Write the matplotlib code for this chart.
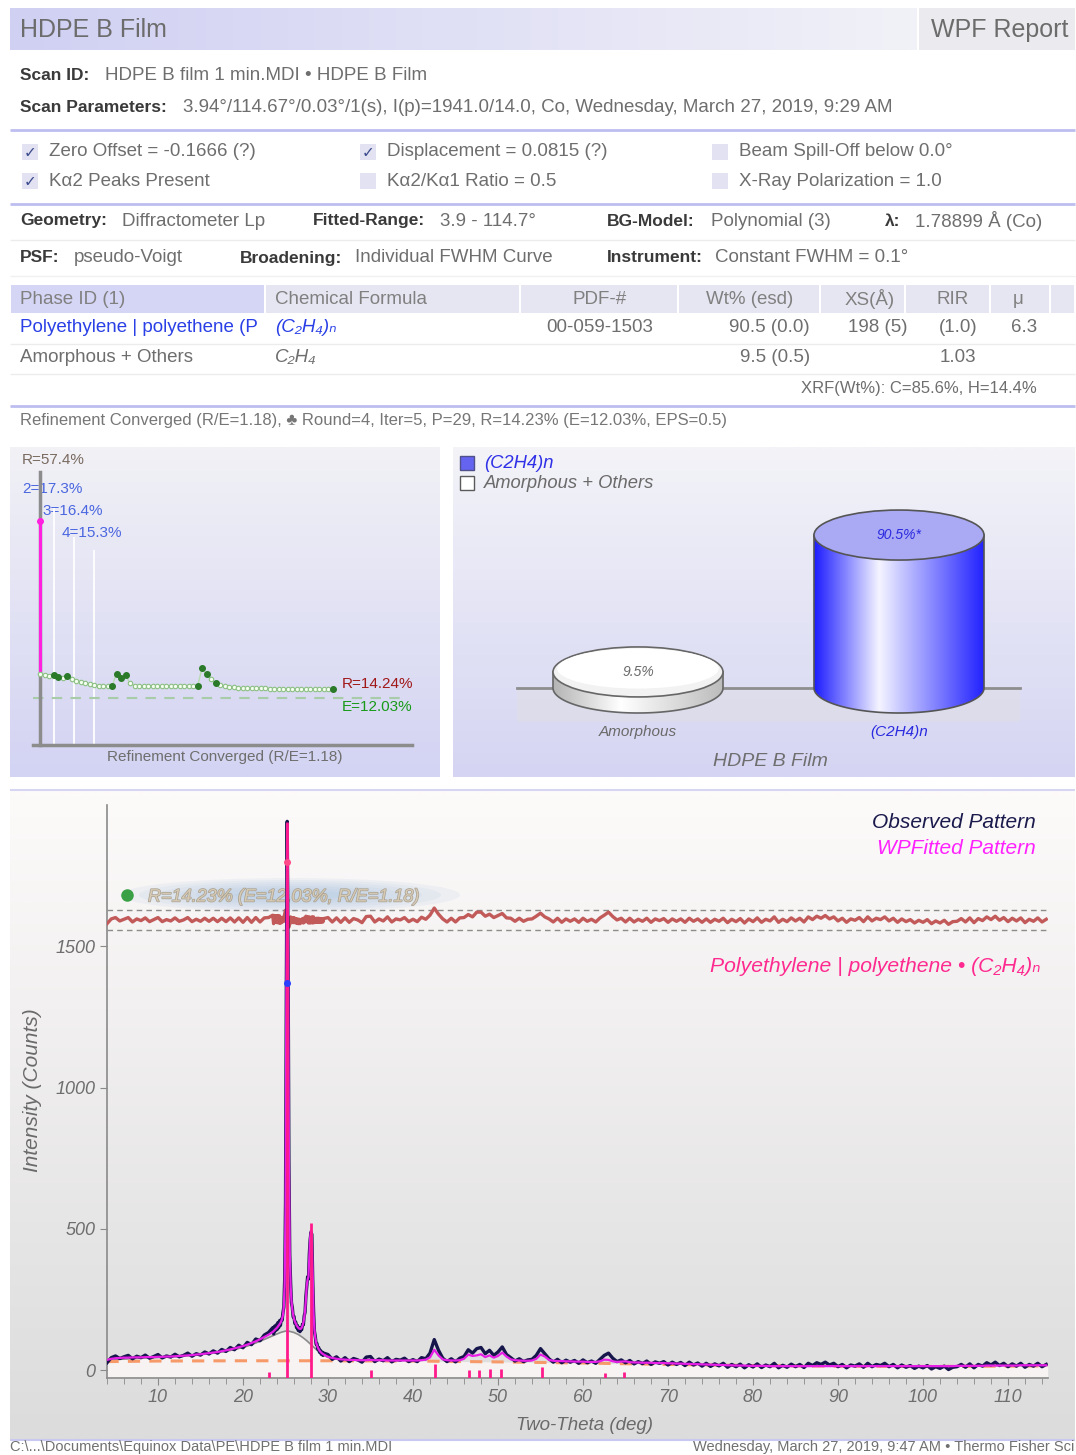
"""WPF report page for HDPE B film: summary tables, convergence, phase cylinders, fitted pattern."""

import matplotlib.pyplot as plt
import matplotlib.patheffects as pe
import numpy as np
from matplotlib.colors import LinearSegmentedColormap, to_rgb
from matplotlib.patches import Ellipse, PathPatch, Rectangle
from matplotlib.path import Path

plt.rcParams["font.family"] = ["Liberation Sans", "DejaVu Sans"]

W, H = 1076, 1455

# ---------------------------------------------------------------- pattern data
# scan grid (coarse away from the two big reflections, fine across them)
tt_low = np.arange(4.0, 23.01, 0.5)
tt_peak = np.linspace(23.5, 29.5, 61)
tt_high = np.arange(30.0, 114.51, 0.5)

obs_low = [26, 44, 50, 41, 47, 52, 40, 49, 44, 53,
           42, 48, 55, 43, 50, 46, 56, 47, 52, 60,
           49, 58, 53, 64, 57, 68, 60, 73, 66, 80,
           72, 88, 79, 98, 90, 110, 104, 124, 133]
calc_low = [36, 40, 42, 43, 44, 44, 45, 45, 45, 46,
            46, 46, 47, 47, 48, 48, 49, 50, 51, 52,
            53, 55, 56, 58, 60, 62, 64, 67, 70, 73,
            77, 81, 85, 90, 96, 102, 109, 117, 125]

obs_peak = [150, 128, 155, 139, 160, 143, 168, 150, 175, 158,
            180, 176, 204, 222, 318, 590, 1380, 1942, 1480, 740,
            410, 310, 238, 222, 188, 190, 165, 170, 150, 158,
            140, 150, 136, 148, 143, 162, 160, 192, 205, 262,
            296, 330, 322, 410, 462, 488, 480, 322, 210, 138,
            120, 92, 94, 74, 80, 63, 70, 56, 64, 52,
            60]
calc_peak = [135, 138, 141, 144, 147, 150, 154, 158, 162, 167,
             173, 182, 195, 225, 300, 560, 1350, 1930, 1500, 760,
             420, 300, 245, 215, 195, 182, 172, 165, 159, 154,
             150, 147, 146, 146, 150, 157, 168, 185, 210, 250,
             300, 320, 330, 400, 470, 495, 470, 330, 200, 145,
             115, 98, 88, 80, 74, 69, 65, 62, 59, 57,
             55]

obs_high = [55, 38, 47, 32, 44, 30, 41, 36, 28, 46,
            48, 30, 39, 33, 44, 29, 38, 35, 42, 30,
            37, 30, 44, 40, 60, 108, 70, 42, 30, 40,
            29, 42, 48, 72, 60, 76, 80, 58, 70, 52,
            64, 82, 55, 44, 32, 40, 30, 36, 38, 52,
            76, 58, 40, 28, 38, 26, 35, 28, 34, 24,
            36, 26, 32, 24, 38, 52, 60, 42, 30, 36,
            26, 34, 22, 30, 23, 32, 20, 29, 24, 30,
            18, 28, 20, 27, 16, 28, 18, 25, 14, 24,
            13, 22, 15, 24, 10, 20, 12, 21, 8, 19,
            11, 22, 9, 18, 12, 24, 8, 17, 10, 21,
            12, 20, 9, 24, 16, 26, 20, 28, 18, 24,
            12, 20, 8, 18, 14, 22, 10, 24, 12, 20,
            16, 24, 12, 20, 8, 18, 10, 16, 6, 14,
            8, 16, 4, 12, 6, 14, 2, 10, 12, 20,
            10, 22, 8, 20, 14, 26, 18, 28, 16, 24,
            12, 22, 14, 24, 10, 20, 14, 24, 12, 20]
calc_high = [47, 43, 40, 38, 37, 36, 36, 35, 35, 35,
             36, 35, 35, 35, 34, 34, 34, 34, 34, 34,
             34, 34, 35, 37, 45, 72, 52, 38, 35, 34,
             34, 35, 40, 55, 50, 52, 56, 46, 52, 44,
             50, 62, 48, 38, 35, 34, 33, 33, 34, 40,
             55, 48, 36, 33, 32, 32, 31, 31, 30, 30,
             30, 29, 29, 29, 31, 37, 36, 31, 29, 30,
             31, 28, 27, 27, 26, 26, 26, 25, 25, 25,
             24, 24, 23, 23, 22, 22, 21, 21, 20, 20,
             19, 19, 18, 18, 17, 17, 16, 16, 16, 15,
             15, 15, 15, 15, 14, 14, 14, 14, 14, 14,
             14, 14, 14, 14, 14, 14, 14, 14, 14, 14,
             14, 14, 14, 14, 14, 14, 14, 14, 14, 14,
             14, 14, 14, 14, 14, 14, 14, 14, 14, 14,
             14, 14, 14, 14, 14, 14, 14, 14, 15, 15,
             15, 15, 15, 15, 15, 16, 16, 16, 16, 16,
             16, 16, 16, 17, 17, 17, 17, 17, 17, 17]

# amorphous hump (incl. background) and polynomial background
amorph_tt = [4, 8, 12, 14, 16, 18, 20, 21, 22, 23, 24, 24.5, 25, 25.5, 26,
             26.5, 27, 27.5, 28, 28.5, 29, 29.5, 30, 31, 32, 34, 40]
amorph_counts = [36, 42, 47, 52, 58, 66, 80, 90, 102, 115, 128, 134, 138, 137, 133,
                 126, 116, 104, 90, 76, 63, 52, 45, 39, 37, 35, 34]
bg_tt = [3.94, 10, 20, 30, 40, 50, 60, 70, 80, 90, 100, 110, 114.67]
bg_counts = [30, 32, 33, 33, 32, 29, 25, 20, 16, 14, 13, 14, 15]

# reference sticks of polyethylene
stick_tt = [23.0, 25.2, 28.0, 35.1, 42.6, 46.6, 47.8, 49.0, 50.4, 55.2, 62.6, 64.8]
stick_top = [-8, 1940, 520, 0, 20, 2, 0, 4, 4, 10, -12, -6]
mark_counts = [1800, 1370]

# ---------------------------------------------------------------- convergence
r_start = 57.4
conv_r = [18.2, 18.0, 17.8, 17.9, 17.5, 17.3, 17.6, 16.9, 16.4, 16.2,
          15.8, 15.6, 15.3, 15.2, 15.1, 15.1, 15.0, 18.3, 17.2, 18.0,
          15.8, 15.2, 15.1, 15.1, 15.0, 15.0, 15.0, 15.0, 15.0, 15.1,
          15.0, 15.0, 15.0, 15.0, 15.0, 15.0, 19.7, 18.2, 16.8, 15.8,
          15.4, 15.0, 14.9, 14.8, 14.7, 14.6, 14.6, 14.5, 14.5, 14.5,
          14.5, 14.4, 14.4, 14.4, 14.4, 14.4, 14.3, 14.3, 14.3, 14.3,
          14.3, 14.3, 14.3, 14.3, 14.3, 14.24]
dark_idx = [3, 4, 6, 16, 17, 18, 19, 35, 36, 37, 39, 65]
round_idx = [3, 7.5, 12]
round_tops = [60.8, 53.3, 50.0]
round_labels = ["2=17.3%", "3=16.4%", "4=15.3%"]
e_final = 12.03
r_final = 14.24

# ---------------------------------------------------------------- phases
phase_names = ["Amorphous", "(C2H4)n"]
phase_wt = [9.5, 90.5]
phase_tags = ["9.5%", "90.5%*"]

table_cols = [10, 265, 520, 678, 820, 905, 990, 1050, 1075]
table_head = ["Phase ID (1)", "Chemical Formula", "PDF-#", "Wt% (esd)", "XS(Å)", "RIR", "μ"]

# ================================================================ drawing
fig = plt.figure(figsize=(W / 100, H / 100), dpi=100)
bg = fig.add_axes([0, 0, 1, 1])
bg.axis("off")


def vgrad(x0, x1, y0, y1, c0, c1):
    a = np.linspace(0, 1, 64)[:, None, None]
    img = (1 - a) * np.array(to_rgb(c0)) + a * np.array(to_rgb(c1))
    bg.imshow(img, extent=[x0, x1, y1, y0], aspect="auto", zorder=0,
              interpolation="bilinear")


def hgrad(x0, x1, y0, y1, c0, c1):
    a = np.linspace(0, 1, 64)[None, :, None]
    img = (1 - a) * np.array(to_rgb(c0)) + a * np.array(to_rgb(c1))
    bg.imshow(img, extent=[x0, x1, y1, y0], aspect="auto", zorder=0,
              interpolation="bilinear")


def txt(x, y, s, size=13.5, color="#6e6e6e", **kw):
    bg.text(x, y, s, fontsize=size, color=color, va="center", **kw)


def hline(y, color="#bdbdf0", lw=2, x0=10, x1=1075):
    bg.plot([x0, x1], [y, y], color=color, lw=lw, solid_capstyle="butt", zorder=1)


LAB = dict(size=12.5, color="#3a3a3a", fontweight="bold")

# header
hgrad(10, 917, 8, 50, "#d0d0f3", "#f1f1f8")
bg.add_patch(Rectangle((919, 8), 156, 42, fc="#ebebef", ec="none", zorder=0))
txt(20, 30, "HDPE B Film", size=18, color="#6c6c6c")
txt(1068, 30, "WPF Report", size=18, color="#6c6c6c", ha="right")

txt(20, 75, "Scan ID:", **LAB)
txt(105, 75, "HDPE B film 1 min.MDI • HDPE B Film")
txt(20, 107, "Scan Parameters:", **LAB)
txt(183, 107, "3.94°/114.67°/0.03°/1(s), I(p)=1941.0/14.0, Co, Wednesday, March 27, 2019, 9:29 AM")
hline(130)

checks = [(22, 152, True, "Zero Offset = -0.1666 (?)"),
          (360, 152, True, "Displacement = 0.0815 (?)"),
          (712, 152, False, "Beam Spill-Off below 0.0°"),
          (22, 181, True, "Kα2 Peaks Present"),
          (360, 181, False, "Kα2/Kα1 Ratio = 0.5"),
          (712, 181, False, "X-Ray Polarization = 1.0")]
for cx, cy, on, s in checks:
    bg.add_patch(Rectangle((cx, cy - 8), 16, 16, fc="#e2e2f2", ec="none", zorder=1))
    if on:
        bg.text(cx + 8, cy + 1, "✓", family="DejaVu Sans", fontsize=11, color="#3a4a8c",
                ha="center", va="center", zorder=2)
    txt(cx + 27, cy, s)
hline(204)

geo = [(20, 122, "Geometry:", "Diffractometer Lp"), (313, 440, "Fitted-Range:", "3.9 - 114.7°"),
       (607, 711, "BG-Model:", "Polynomial (3)"), (885, 915, "λ:", "1.78899 Å (Co)")]
for lx, vx, lab, val in geo:
    txt(lx, 221, lab, **LAB)
    txt(vx, 221, val)
hline(240, color="#ececec", lw=1)
geo2 = [(20, 74, "PSF:", "pseudo-Voigt"), (240, 355, "Broadening:", "Individual FWHM Curve"),
        (607, 715, "Instrument:", "Constant FWHM = 0.1°")]
for lx, vx, lab, val in geo2:
    txt(lx, 258, lab, **LAB)
    txt(vx, 258, val)
hline(276, color="#f0f0f0", lw=1)

# phase table
for i in range(len(table_cols) - 1):
    x0, x1 = table_cols[i], table_cols[i + 1]
    fc = "#d5d5f5" if i == 0 else "#e6e6f2"
    bg.add_patch(Rectangle((x0 + 1, 285), x1 - x0 - 2, 28, fc=fc, ec="none", zorder=1))
head_pos = [(20, "left"), (275, "left"), (600, "center"), (750, "center"),
            (870, "center"), (953, "center"), (1013, "left")]
for (hx, ha), s in zip(head_pos, table_head):
    txt(hx, 299, s, color="#808080", ha=ha)

txt(20, 328, "Polyethylene | polyethene (P", color="#2a40e6")
txt(275, 328, "(C₂H₄)ₙ", color="#2a40e6", style="italic")
txt(600, 328, "00-059-1503", ha="center")
txt(810, 328, "90.5 (0.0)", ha="right")
txt(907, 328, "198 (5)", ha="right")
txt(958, 328, "(1.0)", ha="center")
txt(1024, 328, "6.3", ha="center")
hline(344, color="#ececec", lw=1)
txt(20, 358, "Amorphous + Others")
txt(275, 358, "C₂H₄", style="italic")
txt(810, 358, "9.5 (0.5)", ha="right")
txt(958, 358, "1.03", ha="center")
hline(374, color="#ececec", lw=1)
txt(1037, 389, "XRF(Wt%): C=85.6%, H=14.4%", size=12, ha="right")
hline(406)
txt(20, 420, "Refinement Converged (R/E=1.18), ♣ Round=4, Iter=5, P=29, R=14.23% (E=12.03%, EPS=0.5)",
    size=12, color="#767676")

# panel backgrounds
vgrad(10, 440, 447, 777, "#f1f1f6", "#d3d3f3")
vgrad(453, 1075, 447, 777, "#f3f3f8", "#d5d5f3")
vgrad(10, 1075, 791, 1440, "#fdfafa", "#dcdcdc")
hline(790, color="#d6d6f2", lw=1.5)
hline(1440, color="#c8c8f0", lw=1.5)

# footer
txt(10, 1447, r"C:\...\Documents\Equinox Data\PE\HDPE B film 1 min.MDI", size=10.5, color="#707070")
txt(1074, 1447, "Wednesday, March 27, 2019, 9:47 AM • Thermo Fisher Sci", size=10.5,
    color="#707070", ha="right")

# convergence panel labels
txt(22, 460, f"R={r_start}%", size=11, color="#7a6a60")
for (lx, ly), s in zip([(22, 489), (42, 511), (62, 533)], round_labels):
    txt(lx, ly, s, size=11, color="#4a66e0")
txt(342, 684, f"R={r_final}%", size=11, color="#a01818")
txt(342, 707, f"E={e_final}%", size=11, color="#189a18")
txt(225, 757, "Refinement Converged (R/E=1.18)", size=11, color="#6e6e6e", ha="center")

# phase legend
bg.add_patch(Rectangle((460, 456), 14, 14, fc="#6464f0", ec="#50508a", lw=1, zorder=2))
bg.add_patch(Rectangle((460, 476), 14, 14, fc="white", ec="#5a5a5a", lw=1, zorder=2))
txt(484, 463, "(C2H4)n", size=13.2, color="#3030e8", style="italic")
txt(484, 483, "Amorphous + Others", size=13.2, color="#6a6a6a", style="italic")

# main pattern annotations
for k in range(7):
    bg.add_patch(Ellipse((290, 895), 340 - 38 * k, 34 - 4 * k, fc="#a8c4e2", ec="none",
                         alpha=0.13, zorder=1))
bg.plot(127, 895, "o", ms=8, color="#3aa046", zorder=2)
bg.text(148, 897, "R=14.23% (E=12.03%, R/E=1.18)", fontsize=13, style="italic", color="#d6cab4",
        va="center", zorder=3, path_effects=[pe.withStroke(linewidth=1, foreground="#a8a090")])
txt(1036, 823, "Observed Pattern", size=15, color="#1a1a4c", style="italic", ha="right")
txt(1036, 849, "WPFitted Pattern", size=15, color="#ff22ff", style="italic", ha="right")
txt(1040, 967, "Polyethylene | polyethene • (C₂H₄)ₙ", size=15.2, color="#ff2a90",
    style="italic", ha="right")
txt(33, 1090, "Intensity (Counts)", size=15, color="#6a6a6a", style="italic",
    rotation=90, ha="center")
txt(584, 1425, "Two-Theta (deg)", size=13.5, color="#6a6a6a", style="italic", ha="center")

bg.set_xlim(0, W)
bg.set_ylim(H, 0)

# ---------------------------------------------------------------- main pattern axes
two_theta = np.concatenate([tt_low, tt_peak, tt_high])
observed = np.array(obs_low + obs_peak + obs_high, dtype=float)
calc = np.array(calc_low + calc_peak + calc_high, dtype=float)
residual = (observed - calc) * 1.2 + 1592

ax = fig.add_axes([106.5 / W, 1 - 1378 / H, (1047.7 - 106.5) / W, (1378 - 805) / H])
ax.patch.set_alpha(0)
ax.fill_between(bg_tt, -28, bg_counts, color="#f7f3f3", lw=0, zorder=1)
ax.fill_between(amorph_tt, -28, amorph_counts, color="#f7f3f3", lw=0, zorder=1)
ax.plot(amorph_tt, amorph_counts, color="#8a8a8a", lw=1.2, zorder=2)
ax.plot(bg_tt, bg_counts, color="#f79a6a", lw=2.2, ls=(0, (4, 3)), zorder=3)
ax.plot(two_theta, observed, color="#16164c", lw=2.4, zorder=4)
ax.plot(two_theta, calc, color="#e61ee6", lw=1.6, zorder=5)
ax.vlines(stick_tt, -28, stick_top, color="#ff1a8c", lw=2, zorder=6)
ax.plot([stick_tt[1]], [mark_counts[0]], "o", ms=4, color="#ff4a8a", zorder=7)
ax.plot([stick_tt[1]], [mark_counts[1]], "o", ms=4, color="#2a40ff", zorder=7)
ax.plot(two_theta, residual, color="#c25a5a", lw=2.4, zorder=3)
for lvl in (1627, 1556):
    ax.axhline(lvl, color="#8c8c8c", lw=1, ls=(0, (4, 3)), zorder=2)

ax.set_xlim(3.94, 114.67)
ax.set_ylim(-28, 2000)
ax.set_xticks(range(10, 111, 10))
ax.set_xticks(np.arange(4, 115, 2), minor=True)
ax.set_yticks([0, 500, 1000, 1500])
ax.tick_params(which="both", color="#8a8a8a", direction="out")
ax.tick_params(which="major", length=5, labelsize=13, labelcolor="#6e6e6e", pad=3)
ax.tick_params(which="minor", length=4)
for lbl in ax.get_xticklabels() + ax.get_yticklabels():
    lbl.set_style("italic")
for side in ("top", "right"):
    ax.spines[side].set_visible(False)
for side in ("left", "bottom"):
    ax.spines[side].set_color("#8a8a8a")
    ax.spines[side].set_linewidth(1.2)

# ---------------------------------------------------------------- convergence axes
step = 4.5
cax = fig.add_axes([33 / W, 1 - 745 / H, (412 - 33) / W, (745 - 472) / H])
cax.patch.set_alpha(0)
cax.set_xlim(-7 / step, (412 - 40) / step)
cax.set_ylim(0, 70)
cax.set_xticks([])
cax.set_yticks([])
for side in ("top", "right"):
    cax.spines[side].set_visible(False)
for side in ("left", "bottom"):
    cax.spines[side].set_color("#8c8c8c")
    cax.spines[side].set_linewidth(2.5)
cax.spines["left"].set_position(("data", 0))
idx = np.arange(len(conv_r))
conv = np.array(conv_r)
cax.vlines(round_idx, 0, round_tops, color="white", lw=1.3, zorder=1)
cax.axhline(e_final, xmax=0.99, color="#a8cca8", lw=1.5, ls=(0, (5, 4)), zorder=1)
cax.plot([0, 0], [r_start, conv[0]], color="#ff20e0", lw=2.2, zorder=3)
cax.plot([0], [r_start], "o", ms=4, color="#ff20e0", zorder=4)
cax.plot(idx, conv, color="#b8dcb0", lw=1, marker="o", ms=3.2, mfc="#f4fff0",
         mec="#8cc084", mew=0.8, zorder=3)
cax.plot(idx[dark_idx], conv[dark_idx], "o", ms=4, color="#2a7a2a", zorder=4)

# ---------------------------------------------------------------- phase cylinders
px_x, px_y = 261.0, 1.69           # pixels per category / per wt%
pax = fig.add_axes([453 / W, 1 - 777 / H, 622 / W, 330 / H])
pax.axis("off")
r = 85 / px_x
eh = 25 / px_y
x_floor = [(517 - 638) / px_x, (1020 - 638) / px_x]
pax.add_patch(Rectangle((x_floor[0], -20), x_floor[1] - x_floor[0], 20, fc="#dedee6",
                        ec="none", alpha=0.6, zorder=0))
pax.plot(x_floor, [0, 0], color="#8e8e8e", lw=2, zorder=1)

blue_cm = LinearSegmentedColormap.from_list(
    "cyl", [(0, "#1c1cff"), (0.38, "#f4f4ff"), (1, "#2020ff")])
white_cm = LinearSegmentedColormap.from_list(
    "cylw", [(0, "#b4b4b4"), (0.4, "#ffffff"), (1, "#bcbcbc")])
styles = [(white_cm, "#f2f2f2", "#666666", "#6a6a6a"),
          (blue_cm, "#a9a9f4", "#555555", "#2a2ae0")]

for i, (name, val, tag) in enumerate(zip(phase_names, phase_wt, phase_tags)):
    cm, top_fc, edge, tcol = styles[i]
    t = np.linspace(np.pi, 2 * np.pi, 60)
    verts = [(i - r, val)] + list(zip(i + r * np.cos(t), eh * np.sin(t))) + [(i + r, val), (i - r, val)]
    codes = [Path.MOVETO] + [Path.LINETO] * (len(verts) - 2) + [Path.CLOSEPOLY]
    body = PathPatch(Path(verts, codes), fc="none", ec=edge, lw=1.2, zorder=3)
    pax.add_patch(body)
    im = pax.imshow(np.linspace(0, 1, 256)[None, :], cmap=cm, aspect="auto",
                    extent=[i - r, i + r, -eh, val], zorder=2)
    im.set_clip_path(body)
    pax.add_patch(Ellipse((i, val), 2 * r, 2 * eh, fc=top_fc, ec=edge, lw=1.2, zorder=4))
    if i == 0:
        pax.add_patch(Ellipse((i, val + 2), 1.9 * r, 1.6 * eh, fc="white", ec="none", zorder=4))
    pax.text(i, val, tag, fontsize=10, style="italic", color=tcol, ha="center",
             va="center", zorder=5)
    pax.text(i, -26, name, fontsize=11, style="italic", color=tcol, ha="center", va="center")

pax.text((770 - 638) / px_x, -43.2, "HDPE B Film", fontsize=14, style="italic",
         color="#6e6e6e", ha="center", va="center")
pax.set_xlim((453 - 638) / px_x, (1075 - 638) / px_x)
pax.set_ylim(-(777 - 688) / px_y, (688 - 447) / px_y)

fig.savefig("out.png", dpi=100)
